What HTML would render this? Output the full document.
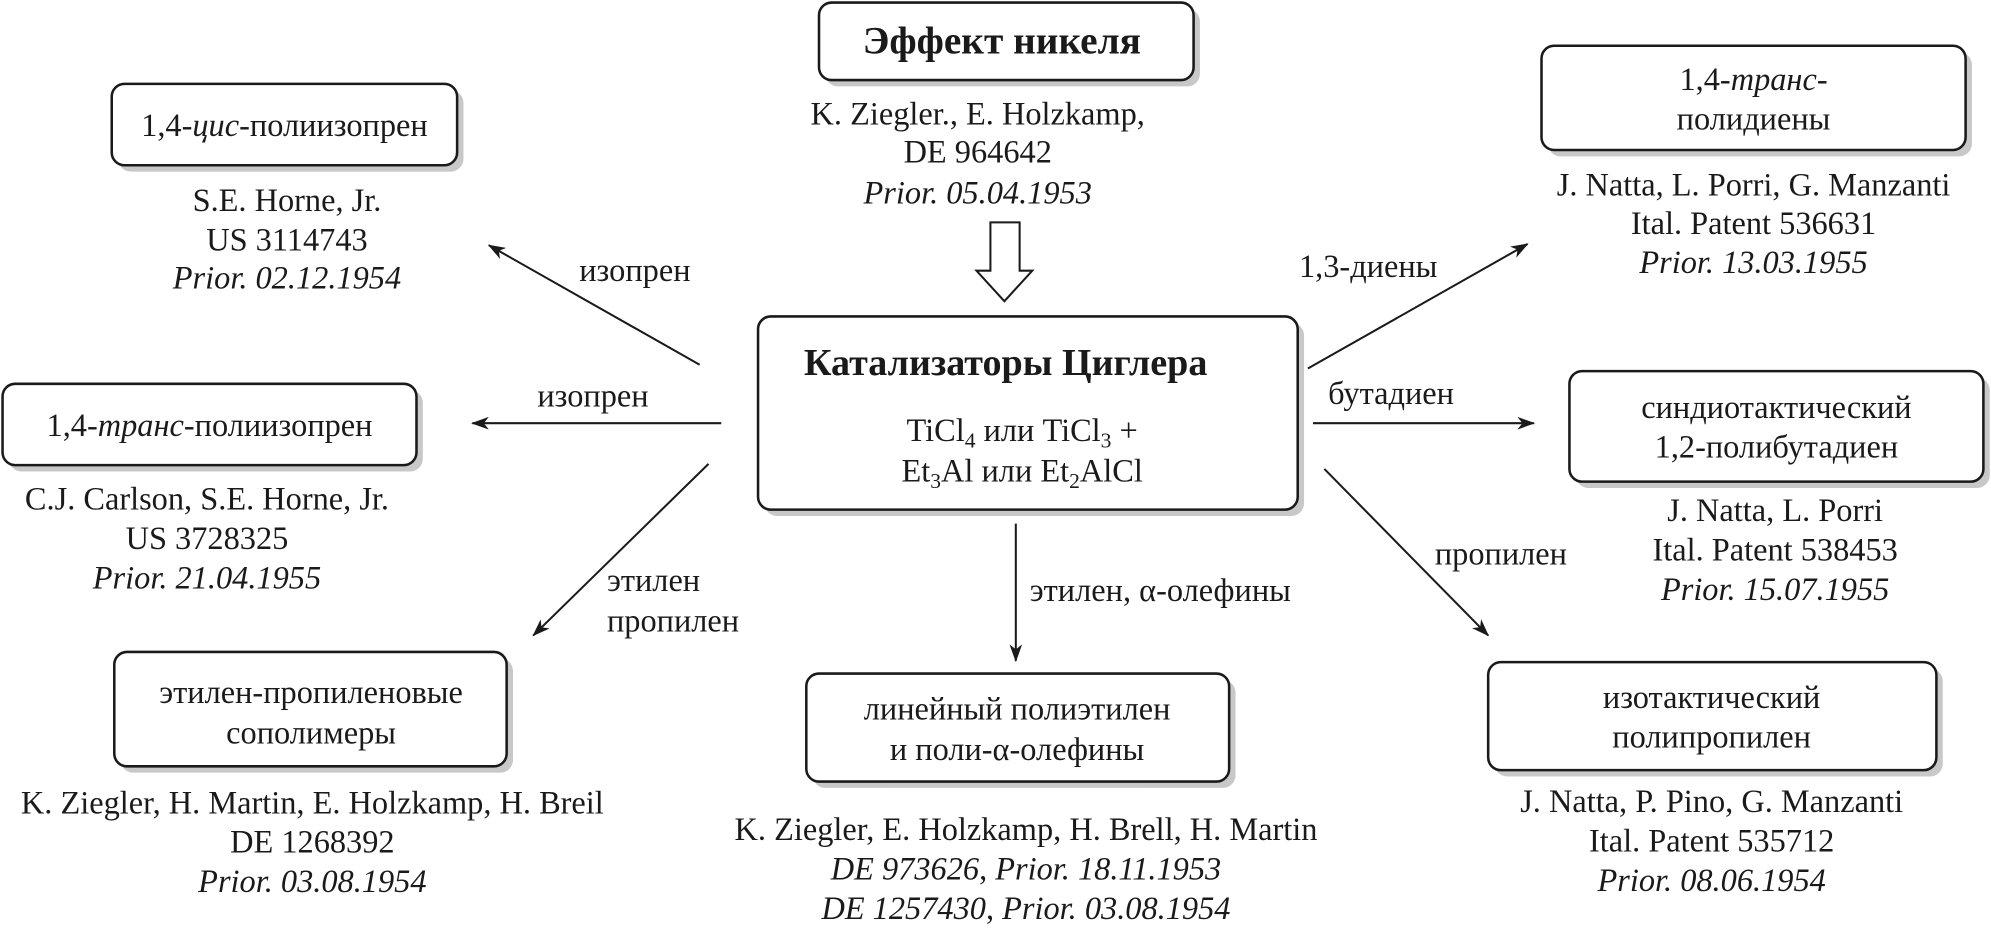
<!DOCTYPE html>
<html><head><meta charset="utf-8"><style>
html,body{margin:0;padding:0;background:#fff;}
svg{display:block;}
text{font-family:"Liberation Serif","DejaVu Serif",serif;font-size:25.5px;fill:#1a1a1a;}
.c{text-anchor:middle;}
.i{font-style:italic;}
.b{font-weight:bold;}
</style></head><body>
<svg width="1991" height="929" viewBox="0 0 1568 731" preserveAspectRatio="none" xmlns="http://www.w3.org/2000/svg">
<defs>
<marker id="ah" viewBox="0 0 14 10" refX="13" refY="5" markerWidth="14" markerHeight="10" markerUnits="userSpaceOnUse" orient="auto">
<path d="M0,0 L14,5 L0,10 L4,5 z" fill="#1a1a1a"/>
</marker>
</defs>
<g fill="#c8c8c8">
<rect x="650" y="7" width="295" height="61" rx="10"/>
<rect x="602" y="254" width="425" height="152" rx="10"/>
<rect x="93" y="71" width="272" height="64" rx="10"/>
<rect x="7" y="307" width="326" height="64" rx="10"/>
<rect x="95" y="518" width="309" height="90" rx="10"/>
<rect x="640" y="535" width="333" height="85" rx="10"/>
<rect x="1177" y="526" width="353" height="85" rx="10"/>
<rect x="1241" y="297" width="326" height="87" rx="10"/>
<rect x="1219" y="41" width="334" height="82" rx="10"/>
</g>
<g fill="#fff" stroke="#1a1a1a" stroke-width="2">
<rect x="645" y="2" width="295" height="61" rx="10"/>
<rect x="597" y="249" width="425" height="152" rx="10"/>
<rect x="88" y="66" width="272" height="64" rx="10"/>
<rect x="2" y="302" width="326" height="64" rx="10"/>
<rect x="90" y="513" width="309" height="90" rx="10"/>
<rect x="635" y="530" width="333" height="85" rx="10"/>
<rect x="1172" y="521" width="353" height="85" rx="10"/>
<rect x="1236" y="292" width="326" height="87" rx="10"/>
<rect x="1214" y="36" width="334" height="82" rx="10"/>
</g>
<g stroke="#1a1a1a" stroke-width="1.6" fill="none" marker-end="url(#ah)">
<line x1="551" y1="287" x2="385" y2="193"/>
<line x1="568" y1="333" x2="372" y2="333"/>
<line x1="558" y1="365" x2="420" y2="500"/>
<line x1="800" y1="412" x2="800" y2="520"/>
<line x1="1030" y1="290" x2="1203" y2="192"/>
<line x1="1034" y1="333" x2="1208" y2="333"/>
<line x1="1043" y1="369" x2="1172" y2="500"/>
</g>
<path d="M780,175 L803,175 L803,213 L813,213 L791,237 L769,213 L780,213 Z" fill="#fff" stroke="#1a1a1a" stroke-width="1.6"/>
<text class="c b" x="789" y="42" style="font-size:31px">Эффект никеля</text>
<text class="c" x="770" y="98">K. Ziegler., E. Holzkamp,</text>
<text class="c" x="770" y="128">DE 964642</text>
<text class="c i" x="770" y="160">Prior. 05.04.1953</text>
<text class="c b" x="792" y="295" style="font-size:30px">Катализаторы Циглера</text>
<text class="c" x="805" y="347">TiCl<tspan dy="5" style="font-size:17px">4</tspan><tspan dy="-5"> или TiCl</tspan><tspan dy="5" style="font-size:17px">3</tspan><tspan dy="-5"> +</tspan></text>
<text class="c" x="805" y="379">Et<tspan dy="5" style="font-size:17px">3</tspan><tspan dy="-5">Al или Et</tspan><tspan dy="5" style="font-size:17px">2</tspan><tspan dy="-5">AlCl</tspan></text>
<text class="c" x="224" y="107">1,4-<tspan class="i">цис</tspan>-полиизопрен</text>
<text class="c" x="226" y="166">S.E. Horne, Jr.</text>
<text class="c" x="226" y="197">US 3114743</text>
<text class="c i" x="226" y="227">Prior. 02.12.1954</text>
<text class="c" x="165" y="343">1,4-<tspan class="i">транс</tspan>-полиизопрен</text>
<text class="c" x="163" y="401">C.J. Carlson, S.E. Horne, Jr.</text>
<text class="c" x="163" y="432">US 3728325</text>
<text class="c i" x="163" y="463">Prior. 21.04.1955</text>
<text class="c" x="245" y="553">этилен-пропиленовые</text>
<text class="c" x="245" y="585">сополимеры</text>
<text class="c" x="246" y="640">K. Ziegler, H. Martin, E. Holzkamp, H. Breil</text>
<text class="c" x="246" y="671">DE 1268392</text>
<text class="c i" x="246" y="702">Prior. 03.08.1954</text>
<text class="c" x="801" y="566">линейный полиэтилен</text>
<text class="c" x="801" y="598">и поли-α-олефины</text>
<text class="c" x="808" y="661">K. Ziegler, E. Holzkamp, H. Brell, H. Martin</text>
<text class="c i" x="808" y="692">DE 973626<tspan style="font-style:normal">, </tspan>Prior. 18.11.1953</text>
<text class="c i" x="808" y="723">DE 1257430<tspan style="font-style:normal">, </tspan>Prior. 03.08.1954</text>
<text class="c" x="1348" y="557">изотактический</text>
<text class="c" x="1348" y="588">полипропилен</text>
<text class="c" x="1348" y="639">J. Natta, P. Pino, G. Manzanti</text>
<text class="c" x="1348" y="670">Ital. Patent 535712</text>
<text class="c i" x="1348" y="701">Prior. 08.06.1954</text>
<text class="c" x="1399" y="329">синдиотактический</text>
<text class="c" x="1399" y="360">1,2-полибутадиен</text>
<text class="c" x="1398" y="410">J. Natta, L. Porri</text>
<text class="c" x="1398" y="441">Ital. Patent 538453</text>
<text class="c i" x="1398" y="472">Prior. 15.07.1955</text>
<text class="c" x="1381" y="71">1,4-<tspan class="i">транс</tspan>-</text>
<text class="c" x="1381" y="102">полидиены</text>
<text class="c" x="1381" y="154">J. Natta, L. Porri, G. Manzanti</text>
<text class="c" x="1381" y="184">Ital. Patent 536631</text>
<text class="c i" x="1381" y="215">Prior. 13.03.1955</text>
<text class="c" x="500" y="221">изопрен</text>
<text class="c" x="467" y="320">изопрен</text>
<text x="478" y="465">этилен</text>
<text x="478" y="497">пропилен</text>
<text x="811" y="473">этилен, α-олефины</text>
<text x="1023" y="218">1,3-диены</text>
<text x="1046" y="318">бутадиен</text>
<text x="1130" y="444">пропилен</text>
</svg>
</body></html>
